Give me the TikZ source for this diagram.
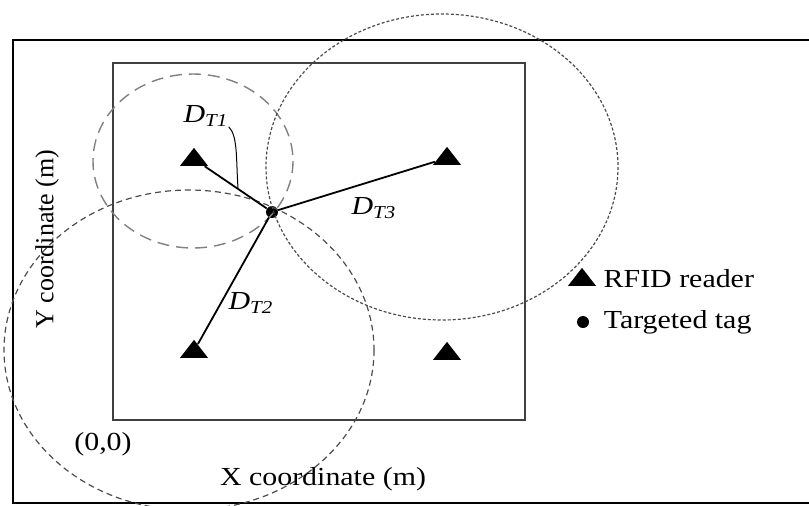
\documentclass[tikz,border=0pt]{standalone}
\usepackage{fontspec}
\setmainfont{Liberation Serif}[FakeStretch=1.15]
\newfontfamily\ylabelfont{Liberation Serif}
\usetikzlibrary{shapes.geometric, positioning}

\begin{document}
\begin{tikzpicture}[x=0.5pt, y=-0.5pt,
    reader/.style={isosceles triangle, isosceles triangle stretches, shape border rotate=90, fill=black, inner sep=0pt, minimum width=14pt, minimum height=9pt},
    tag/.style={circle, fill=black, inner sep=0pt, minimum size=6pt},
    txt/.style={font=\fontsize{13}{15}\selectfont, inner sep=0pt},
    dist/.style={line width=0.9pt},
    range1/.style={gray, line width=0.7pt, dash pattern=on 6pt off 3.5pt},
    range2/.style={black!70, line width=0.6pt, dash pattern=on 3pt off 2pt},
    range3/.style={black!70, line width=0.6pt, dash pattern=on 1.5pt off 1pt}
]

% Frame
\clip (0,0) rectangle (809,505);
\draw[line width=1pt] (13,40) rectangle (840,503);
\draw[line width=0.7pt, black!75] (113,63) rectangle (525,420);

% Readers
\node[reader] (r1) at (194,159) {};
\node[reader] (r2) at (194,351) {};
\node[reader] (r3) at (447,158) {};
\node[reader] (r4) at (447,353) {};

% Tag
\node[tag] (t) at (272,212) {};

% Reading ranges
\draw[range1] (193,161) ellipse [x radius=100, y radius=87];
\draw[range2] (189,350) ellipse [x radius=185, y radius=160];
\draw[range3] (442,167) ellipse [x radius=176, y radius=153];

% Distances
\draw[dist] (t) -- (r1);
\draw[dist] (t) -- (r2);
\draw[dist] (t) -- (r3);
\node[txt] (d1) at (206,116) {\textit{D\textsubscript{T1}}};
\node[txt] (d2) at (251,303) {\textit{D\textsubscript{T2}}};
\node[txt] (d3) at (374,208) {\textit{D\textsubscript{T3}}};
\coordinate (e1) at (238,188);
\draw[line width=0.5pt] (d1.south east) .. controls (238,136) and (236,160) .. (e1);

% Axes
\node[txt] (origin) at (103,444) {(0,0)};
\node[txt] (xlab) at (323,479) {X coordinate (m)};
\node[txt, font=\ylabelfont\fontsize{13}{15}\selectfont, rotate=90] (ylab) at (47,239) {Y coordinate (m)};

% Legend
\node[reader] (lr) at (582,279) {};
\node[txt, right=6pt of lr] (lrt) {RFID reader};
\node[tag] (lt) at (583,322) {};
\node[txt, right=7pt of lt] (ltt) {Targeted tag};

\end{tikzpicture}
\end{document}
